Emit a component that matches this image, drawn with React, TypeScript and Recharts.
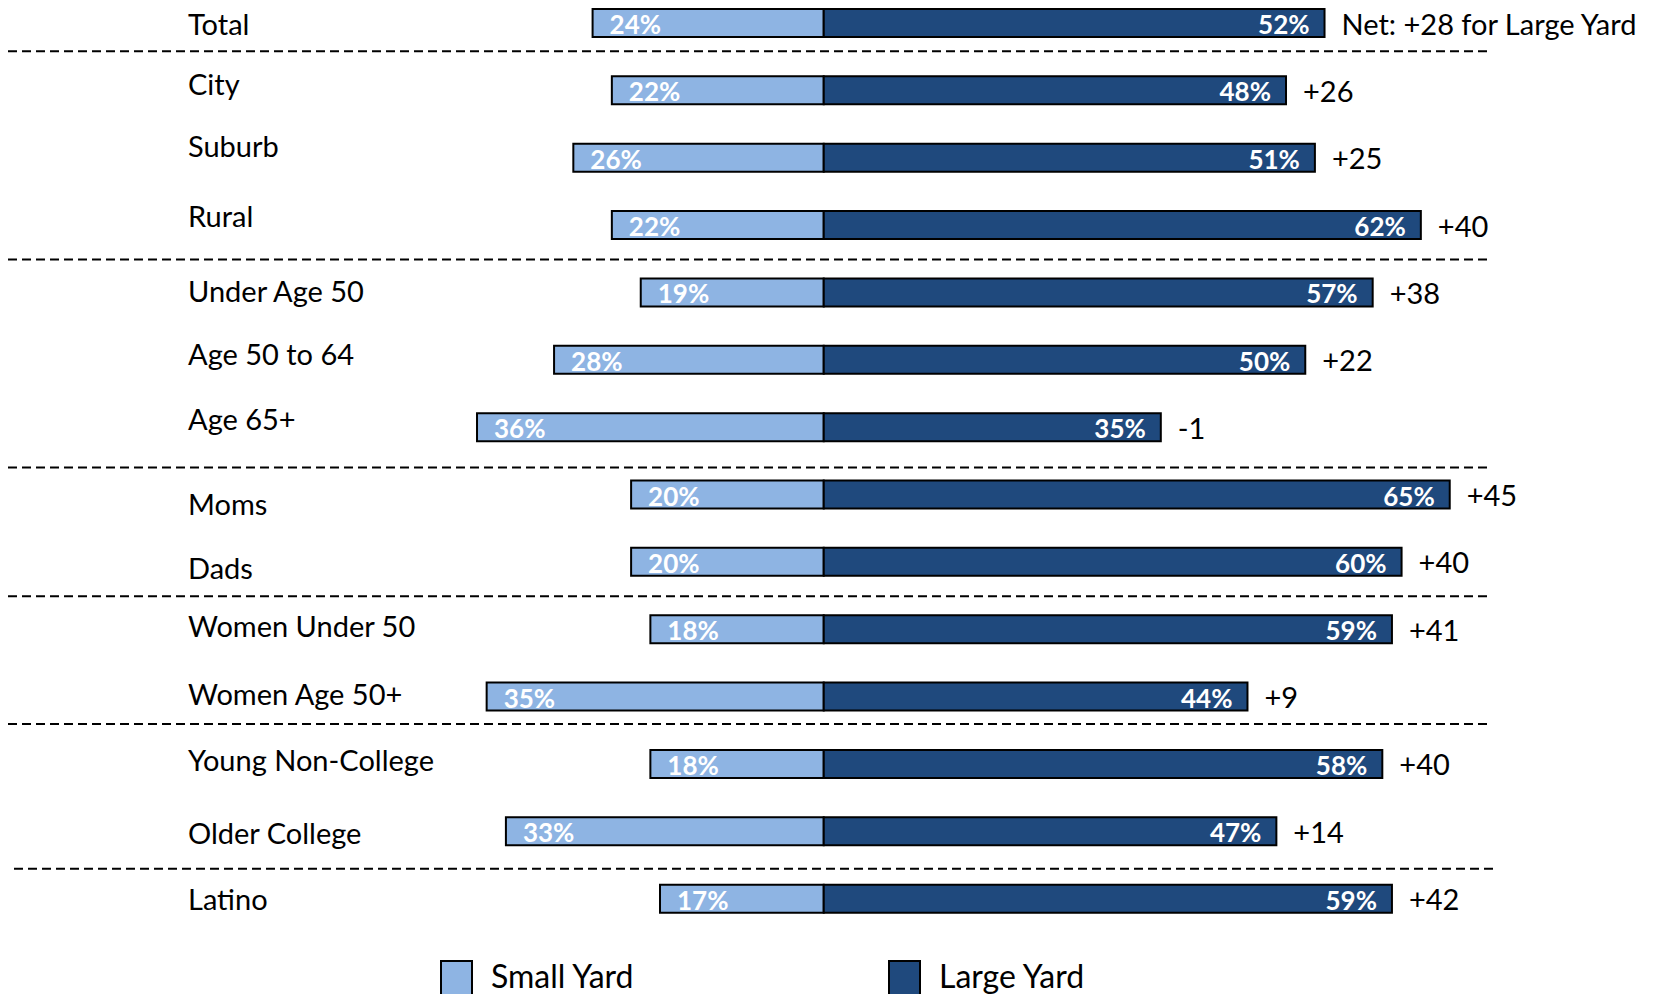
import React from 'react';
import { BarChart, Bar, XAxis, YAxis, ReferenceLine, LabelList, Legend } from 'recharts';

const categories = [
  'Total', 'City', 'Suburb', 'Rural', 'Under Age 50', 'Age 50 to 64', 'Age 65+',
  'Moms', 'Dads', 'Women Under 50', 'Women Age 50+', 'Young Non-College', 'Older College', 'Latino',
];
const smallYard = [24, 22, 26, 22, 19, 28, 36, 20, 20, 18, 35, 18, 33, 17];
const largeYard = [52, 48, 51, 62, 57, 50, 35, 65, 60, 59, 44, 58, 47, 59];
const seriesNames = ['Small Yard', 'Large Yard'];
const groupStarts = ['City', 'Under Age 50', 'Moms', 'Women Under 50', 'Young Non-College', 'Latino'];
const netPrefix = 'Net: ';
const netSuffix = ' for Large Yard';
const xDomain: [number, number] = [-84.7, 68.87];

// small visual nudges (style only)
const labelNudge = [1, -7, -12, -9, -2, -6, -8, 9, 6, -3, -3, -4, 2, 0];
const sepNudge = [-5, 1, 7, 1, -6, 4];
const sepShiftX = [0, 0, 0, 0, 0, 6];

const LIGHT = '#8EB4E3';
const DARK = '#1F497D';
const FONT = 'Lato, "Open Sans", sans-serif';

const fmtNet = (n: number) => (n > 0 ? `+${n}` : `${n}`);

const data = categories.map((name, i) => {
  const net = largeYard[i] - smallYard[i];
  return {
    name,
    small: -smallYard[i],
    large: largeYard[i],
    smallPct: `${smallYard[i]}%`,
    largePct: `${largeYard[i]}%`,
    netLabel: i === 0 ? `${netPrefix}${fmtNet(net)}${netSuffix}` : fmtNet(net),
  };
});

const CategoryTick = (props: any) => {
  const { y, payload } = props;
  const idx = categories.indexOf(payload.value);
  const dy = idx >= 0 ? labelNudge[idx] : 0;
  return (
    <text x={188} y={y + dy} dominantBaseline="central" textAnchor="start"
      fontFamily={FONT} fontSize={29} fill="#000">
      {payload.value}
    </text>
  );
};

const SmallPctLabel = (props: any) => {
  const { x, y, width, height, value } = props;
  const left = Math.min(x, x + width);
  return (
    <text x={left + 17} y={y + height / 2 + 1} dominantBaseline="central" textAnchor="start"
      fontFamily={FONT} fontWeight={700} fontSize={26} fill="#fff">
      {value}
    </text>
  );
};

const LargePctLabel = (props: any) => {
  const { x, y, width, height, value } = props;
  const right = Math.max(x, x + width);
  return (
    <text x={right - 15} y={y + height / 2 + 1} dominantBaseline="central" textAnchor="end"
      fontFamily={FONT} fontWeight={700} fontSize={26} fill="#fff">
      {value}
    </text>
  );
};

const NetLabel = (props: any) => {
  const { x, y, width, height, value } = props;
  const right = Math.max(x, x + width);
  return (
    <text x={right + 17} y={y + height / 2} dominantBaseline="central" textAnchor="start"
      fontFamily={FONT} fontSize={29} fill="#000">
      {value}
    </text>
  );
};

const legendX = [441, 889];

const LegendContent = (props: any) => {
  const raw = props.payload || [];
  const payload = [...raw].sort(
    (a: any, b: any) => seriesNames.indexOf(a.value) - seriesNames.indexOf(b.value),
  );
  return (
    <svg width={1654} height={60} style={{ display: 'block', overflow: 'visible' }}>
      {payload.map((p: any, i: number) => (
        <g key={i}>
          <rect x={legendX[i]} y={1} width={31} height={34}
            fill={p.color} stroke="#000" strokeWidth={2} />
          <text x={legendX[i] + 50} y={28} fontFamily={FONT} fontSize={32} fill="#000">
            {p.value}
          </text>
        </g>
      ))}
    </svg>
  );
};

export default function App() {
  return (
    <div style={{ position: 'absolute', left: 0, top: -11, width: 1654, height: 1010 }}>
      <BarChart
        width={1654}
        height={1010}
        data={data}
        layout="vertical"
        stackOffset="sign"
        barSize={28}
        margin={{ top: 0, right: 167, bottom: 67, left: 0 }}
      >
        <XAxis type="number" domain={xDomain} hide allowDataOverflow />
        <YAxis type="category" dataKey="name" width={8} axisLine={false} tickLine={false}
          interval={0} tick={<CategoryTick />} />
        {groupStarts.map((c, k) => (
          <ReferenceLine key={c} y={c} position="start" ifOverflow="visible"
            stroke="#000" strokeWidth={2} strokeDasharray="9 5"
            shape={(p: any) => (
              <line x1={p.x1 + sepShiftX[k]} y1={p.y1 + sepNudge[k]} x2={p.x2 + sepShiftX[k]} y2={p.y2 + sepNudge[k]}
                stroke="#000" strokeWidth={2} strokeDasharray="9 5" />
            )}
          />
        ))}
        <Bar dataKey="small" name={seriesNames[0]} stackId="a" fill={LIGHT} stroke="#000" strokeWidth={2}
          isAnimationActive={false}>
          <LabelList dataKey="smallPct" content={<SmallPctLabel />} />
        </Bar>
        <Bar dataKey="large" name={seriesNames[1]} stackId="a" fill={DARK} stroke="#000" strokeWidth={2}
          isAnimationActive={false}>
          <LabelList dataKey="largePct" content={<LargePctLabel />} />
          <LabelList dataKey="netLabel" content={<NetLabel />} />
        </Bar>
        <Legend layout="horizontal" verticalAlign="middle" align="center"
          wrapperStyle={{ top: 971, left: 0, width: 1654 }} content={<LegendContent />} />
      </BarChart>
    </div>
  );
}
